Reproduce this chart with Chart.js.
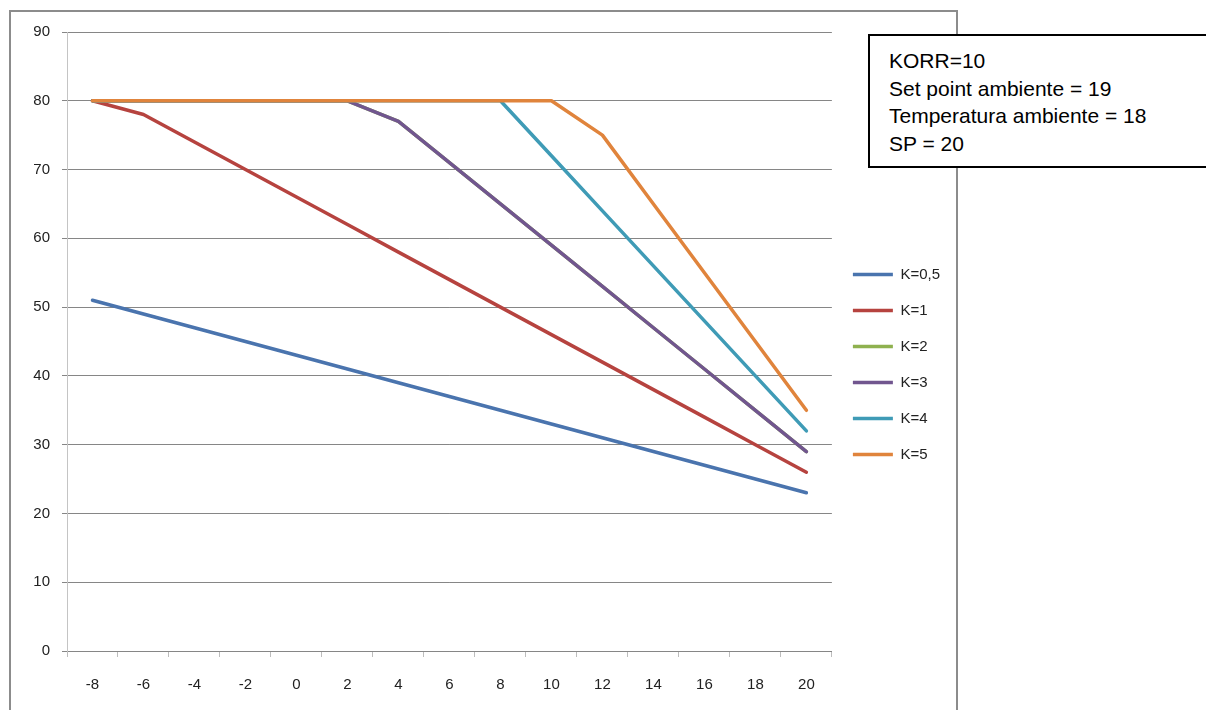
<!DOCTYPE html>
<html>
<head>
<meta charset="utf-8">
<script src="https://cdn.jsdelivr.net/npm/chart.js@4"></script>
<style>
  body { margin: 0; background: #fff; width: 1206px; height: 710px; overflow: hidden; position: relative; }
  #frame { position: absolute; left: 9px; top: 10px; width: 949px; height: 710px;
           border: 2px solid #8c8c8c; border-bottom: none; box-sizing: border-box; }
  #chart { position: absolute; left: 10px; top: 11px; }
  #note { position: absolute; left: 868px; top: 34px; width: 360px; height: 134px;
          border: 2px solid #000; background: #fff; box-sizing: border-box;
          font-family: "Liberation Sans", Arial, sans-serif; font-size: 21px; line-height: 27.7px;
          color: #000; padding: 11px 0 0 19px; }
</style>
</head>
<body>
<div id="frame"></div>
<canvas id="chart" width="946" height="699"></canvas>
<div id="note">KORR=10<br>Set point ambiente = 19<br>Temperatura ambiente = 18<br>SP = 20</div>
<script>
// outside temperature categories
const xLabels = ['-8', '-6', '-4', '-2', '0', '2', '4', '6', '8', '10', '12', '14', '16', '18', '20'];

// flow temperature per curve
const kHalf  = [51, 49, 47, 45, 43, 41, 39, 37, 35, 33, 31, 29, 27, 25, 23];
const kOne   = [80, 78, 74, 70, 66, 62, 58, 54, 50, 46, 42, 38, 34, 30, 26];
// K=2 is not visible in the picture, it sits under K=3
const kTwo   = [80, 80, 80, 80, 80, 80, 77, 71, 65, 59, 53, 47, 41, 35, 29];
const kThree = [80, 80, 80, 80, 80, 80, 77, 71, 65, 59, 53, 47, 41, 35, 29];
const kFour  = [80, 80, 80, 80, 80, 80, 80, 80, 80, 72, 64, 56, 48, 40, 32];
const kFive  = [80, 80, 80, 80, 80, 80, 80, 80, 80, 80, 75, 65, 55, 45, 35];

const yTicks = { min: 0, max: 90, step: 10 };

const seriesNames = ['K=0,5', 'K=1', 'K=2', 'K=3', 'K=4', 'K=5'];
const seriesData = [kHalf, kOne, kTwo, kThree, kFour, kFive];
const seriesColors = ['#4a74ae', '#b6433f', '#8fb14f', '#71568f', '#3f9bb6', '#e0843c'];

const tickFont = { family: 'Liberation Sans', size: 15 };

// later series are painted on top, like the spreadsheet does
const datasets = seriesNames.map((name, i) => ({
    label: name,
    data: seriesData[i],
    order: seriesNames.length - i,
    borderColor: seriesColors[i],
    backgroundColor: seriesColors[i],
    borderWidth: 3.5,
    borderCapStyle: 'round',
    borderJoinStyle: 'round',
    pointRadius: 0,
    tension: 0
}));

new Chart(document.getElementById('chart'), {
    type: 'line',
    data: { labels: xLabels, datasets: datasets },
    options: {
        responsive: false,
        animation: false,
        devicePixelRatio: 1,
        layout: { padding: { top: 21, right: 6, bottom: 13, left: 0 } },
        plugins: {
            tooltip: { enabled: false },
            legend: {
                position: 'right',
                labels: {
                    usePointStyle: true,
                    pointStyle: 'line',
                    pointStyleWidth: 40,
                    padding: 21,
                    color: '#222',
                    font: { family: 'Liberation Sans', size: 15 },
                    sort: (a, b) => a.datasetIndex - b.datasetIndex
                }
            }
        },
        scales: {
            x: {
                type: 'category',
                offset: true,
                afterFit: (scale) => { scale.height = 46; },
                grid: {
                    offset: true,
                    drawOnChartArea: false,
                    drawTicks: true,
                    tickLength: 6,
                    tickColor: '#bdbdbd'
                },
                border: { color: '#868686' },
                ticks: { color: '#222', font: tickFont, padding: 19, maxRotation: 0, autoSkip: false }
            },
            y: {
                min: yTicks.min,
                max: yTicks.max,
                afterFit: (scale) => { scale.width = 57; },
                grid: { color: '#868686', tickColor: '#868686', tickLength: 5 },
                border: { color: '#c4c4c4' },
                ticks: { stepSize: yTicks.step, color: '#222', font: tickFont, padding: 12 }
            }
        }
    }
});
</script>
</body>
</html>
